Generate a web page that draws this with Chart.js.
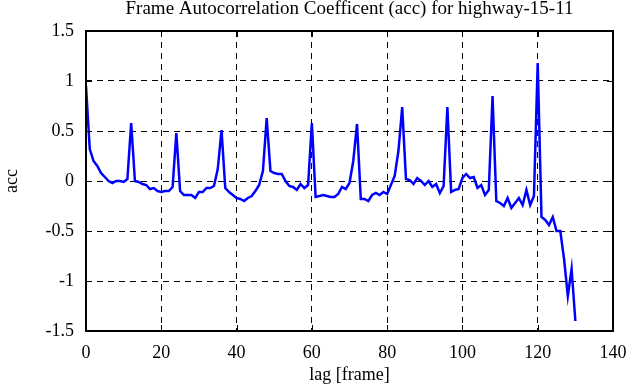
<!DOCTYPE html>
<html>
<head>
<meta charset="utf-8">
<script src="https://cdn.jsdelivr.net/npm/chart.js@4"></script>
<style>
    html, body { margin: 0; padding: 0; background: #ffffff; }
    #wrap { width: 641px; height: 387px; }
</style>
</head>
<body>
<div id="wrap"><canvas id="accChart" width="641" height="387"></canvas></div>
<script>
// Lag (frames) and the autocorrelation
const lags = [
    0, 1, 2, 3, 4, 5, 6, 7, 8, 9, 10, 11, 12, 13, 14, 15, 16, 17, 18, 19,
    20, 21, 22, 23, 24, 25, 26, 27, 28, 29, 30, 31, 32, 33, 34, 35, 36, 37, 38, 39,
    40, 41, 42, 43, 44, 45, 46, 47, 48, 49, 50, 51, 52, 53, 54, 55, 56, 57, 58, 59,
    60, 61, 62, 63, 64, 65, 66, 67, 68, 69, 70, 71, 72, 73, 74, 75, 76, 77, 78, 79,
    80, 81, 82, 83, 84, 85, 86, 87, 88, 89, 90, 91, 92, 93, 94, 95, 96, 97, 98, 99,
    100, 101, 102, 103, 104, 105, 106, 107, 108, 109, 110, 111, 112, 113, 114, 115, 116, 117, 118, 119,
    120, 121, 122, 123, 124, 125, 126, 127, 128, 129, 130
];
const acc = [
    0.95, 0.32, 0.20, 0.15, 0.08, 0.04, 0.00, -0.02, 0.00, 0.00,
    -0.01, 0.02, 0.58, 0.00, -0.01, -0.03, -0.04, -0.08, -0.07, -0.10,
    -0.11, -0.10, -0.10, -0.06, 0.48, -0.10, -0.14, -0.14, -0.14, -0.17,
    -0.11, -0.11, -0.07, -0.07, -0.05, 0.12, 0.51, -0.07, -0.11, -0.14,
    -0.17, -0.18, -0.20, -0.17, -0.15, -0.10, -0.04, 0.10, 0.63, 0.10,
    0.08, 0.07, 0.07, 0.00, -0.05, -0.06, -0.09, -0.03, -0.07, -0.04,
    0.58, -0.16, -0.15, -0.14, -0.15, -0.16, -0.16, -0.13, -0.06, -0.08,
    -0.02, 0.20, 0.57, -0.18, -0.18, -0.20, -0.14, -0.12, -0.14, -0.11,
    -0.13, -0.04, 0.05, 0.30, 0.74, 0.02, 0.01, -0.03, 0.03, 0.00,
    -0.04, 0.00, -0.06, -0.03, -0.12, -0.05, 0.74, -0.11, -0.09, -0.08,
    0.03, 0.07, 0.03, 0.04, -0.07, -0.04, -0.14, -0.09, 0.85, -0.20,
    -0.22, -0.25, -0.17, -0.27, -0.22, -0.17, -0.24, -0.09, -0.24, -0.15,
    1.18, -0.36, -0.39, -0.44, -0.36, -0.50, -0.50, -0.78, -1.15, -0.88,
    -1.40
];
const xTicks = [0, 20, 40, 60, 80, 100, 120, 140];
const yTicks = ['-1.5', '-1', '-0.5', '0', '0.5', '1', '1.5'];

const chartTitle = 'Frame Autocorrelation Coefficent (acc) for highway-15-11';
const serif = "'Liberation Serif', 'DejaVu Serif', serif";

// title centred over the plot box, not the canvas
const titlePlugin = {
    id: 'axesTitle',
    afterDraw(chart) {
        const { ctx, chartArea } = chart;
        ctx.save();
        ctx.fillStyle = '#000';
        ctx.font = '19px ' + serif;
        ctx.textAlign = 'center';
        ctx.textBaseline = 'alphabetic';
        ctx.fillText(chartTitle, (chartArea.left + chartArea.right) / 2, 14);
        ctx.restore();
    }
};

// black frame with short inward ticks on all four sides
const framePlugin = {
    id: 'frame',
    afterDraw(chart) {
        const { ctx, chartArea: a, scales } = chart;
        ctx.save();
        ctx.strokeStyle = '#000';
        ctx.lineWidth = 1;
        ctx.beginPath();
        scales.x.ticks.forEach((t, i) => {
            const px = Math.round(scales.x.getPixelForTick(i)) + 0.5;
            ctx.moveTo(px, a.bottom); ctx.lineTo(px, a.bottom - 6);
            ctx.moveTo(px, a.top); ctx.lineTo(px, a.top + 6);
        });
        scales.y.ticks.forEach((t, i) => {
            const py = Math.round(scales.y.getPixelForTick(i)) + 0.5;
            ctx.moveTo(a.left, py); ctx.lineTo(a.left + 6, py);
            ctx.moveTo(a.right, py); ctx.lineTo(a.right - 6, py);
        });
        ctx.stroke();
        ctx.lineWidth = 2;
        ctx.strokeRect(a.left, a.top, a.right - a.left, a.bottom - a.top);
        ctx.restore();
    }
};

Chart.defaults.font.family = serif;
Chart.defaults.color = '#000';

new Chart(document.getElementById('accChart'), {
    type: 'line',
    data: {
        datasets: [{
            data: lags.map((l, i) => ({ x: l, y: acc[i] })),
            borderColor: '#0000ff',
            borderWidth: 2.5,
            pointRadius: 0,
            tension: 0,
            fill: false
        }]
    },
    options: {
        responsive: false,
        animation: false,
        layout: { padding: { left: 0, right: 28, top: 31, bottom: 0 } },
        plugins: {
            legend: { display: false },
            tooltip: { enabled: false }
        },
        scales: {
            x: {
                type: 'linear',
                min: xTicks[0],
                max: xTicks[xTicks.length - 1],
                afterBuildTicks: s => { s.ticks = xTicks.map(v => ({ value: v })); },
                afterFit: s => { s.height = 56; },
                ticks: { font: { size: 18 }, padding: 11, maxRotation: 0 },
                grid: { color: '#000', lineWidth: 1, drawTicks: false },
                border: { display: false, dash: [6, 5] },
                title: { display: true, text: 'lag [frame]', font: { size: 18 }, padding: { top: 0, bottom: 1 } }
            },
            y: {
                min: Number(yTicks[0]),
                max: Number(yTicks[yTicks.length - 1]),
                afterBuildTicks: s => { s.ticks = yTicks.map(v => ({ value: Number(v) })); },
                afterFit: s => { s.width = 86; },
                ticks: {
                    font: { size: 18 },
                    padding: 12,
                    callback: (v) => yTicks.find(t => Number(t) === v)
                },
                grid: { color: '#000', lineWidth: 1, drawTicks: false },
                border: { display: false, dash: [6, 5] },
                title: { display: true, text: 'acc', font: { size: 18 }, padding: { top: 1, bottom: 0 } }
            }
        }
    },
    plugins: [titlePlugin, framePlugin]
});
</script>
</body>
</html>
